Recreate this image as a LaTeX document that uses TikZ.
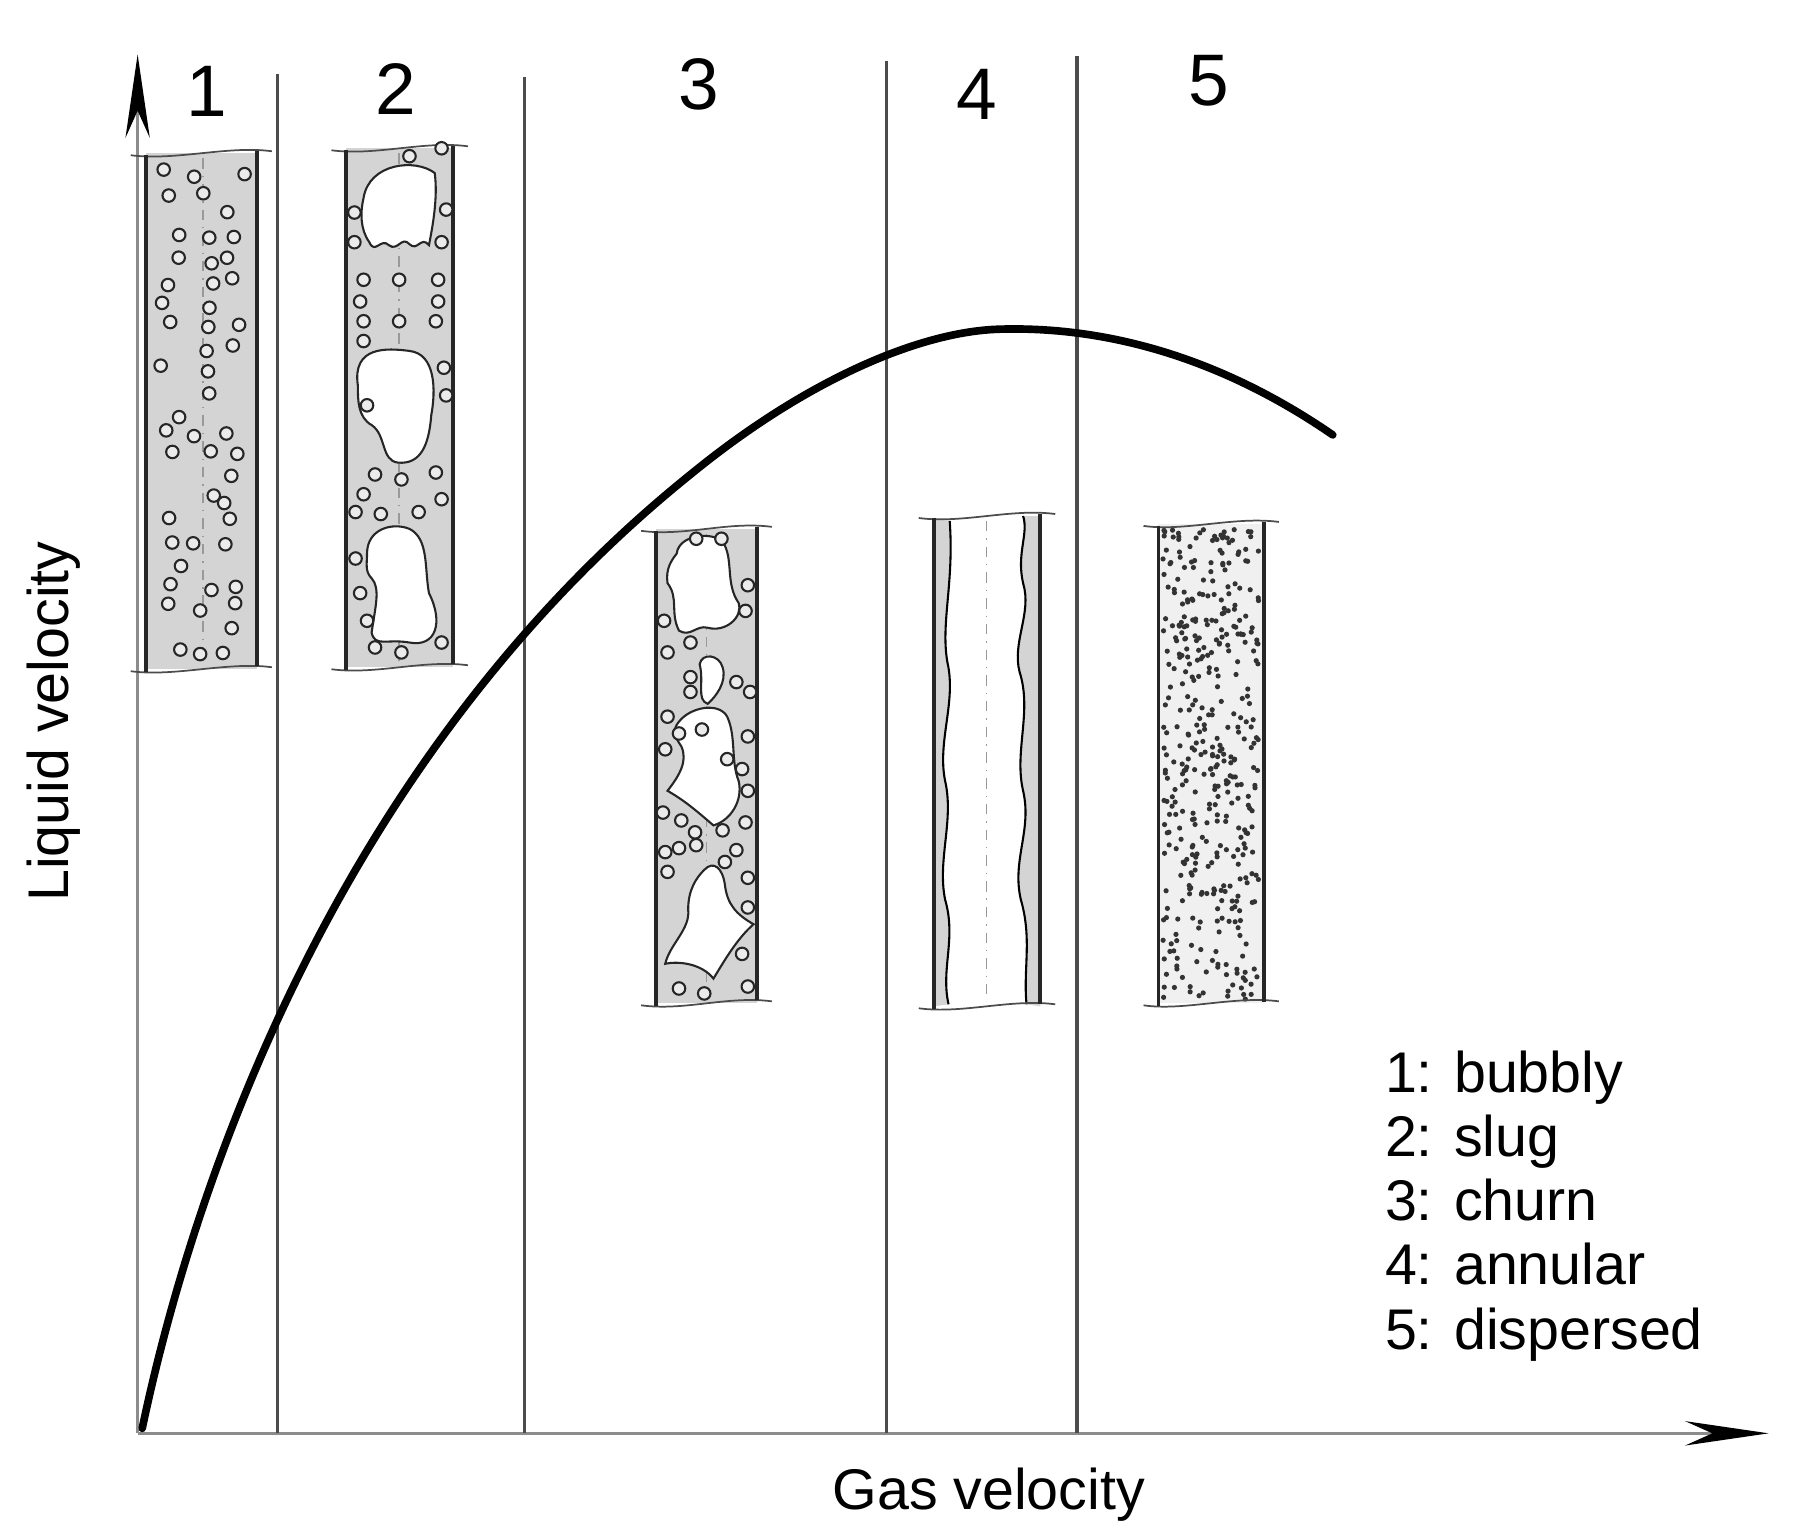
\documentclass[tikz,border=0pt]{standalone}
\usepackage{fontspec}
\setmainfont{Liberation Sans}
\usetikzlibrary{arrows.meta}
\tikzset{
  wall/.style={line width=1.1pt,black!85},
  endwave/.style={line width=0.5pt,black!70},
  tubefill/.style={fill=black!17},
  axis/.style={line width=0.8pt,black!45,-{Stealth[length=24pt,width=7pt,black]}},
  divider/.style={line width=0.9pt,black!70},
  bub/.style={draw=black!85,line width=0.6pt,fill=black!8},
  slug/.style={draw=black!85,line width=0.6pt,fill=white},
  centre/.style={line width=0.4pt,black!40,dash dot},
  lbl/.style={font=\fontsize{21}{24}\selectfont},
  txt/.style={font=\fontsize{16.5}{19.5}\selectfont}
}
\newcommand\mytube[4]{%
  \fill[tubefill] (#1,#3) rectangle (#2,#4);
  \draw[endwave] ({#1-13},{#3+2}) .. controls ({#1+25},{#3+8}) and ({#2-25},{#3-8}) .. ({#2+13},{#3-2});
  \draw[endwave] ({#1-13},{#4+2}) .. controls ({#1+25},{#4+8}) and ({#2-25},{#4-8}) .. ({#2+13},{#4-2});
  \draw[wall] (#1,{#3+2}) -- (#1,{#4+3}) (#2,{#3-2}) -- (#2,{#4-3});
}
\begin{document}
\begin{tikzpicture}[x=0.0116cm,y=-0.01cm]
\useasboundingbox (-2,0) rectangle (1563,1550);
% axes
\coordinate (O) at (118,1450);
\coordinate (Ytip) at (118,55);
\coordinate (Xtip) at (1540,1450);
\draw[axis] (O) -- (Ytip);
\draw[axis] (O) -- (Xtip);
% dividers
\foreach \x/\t in {240/75,455/78,771/62,937/57}{\draw[divider] (\x,\t) -- (\x,1450);}
\node[lbl] (n1) at (178,92) {1};
\node[lbl] (n2) at (343,90) {2};
\node[lbl] (n3) at (607,85) {3};
\node[lbl] (n4) at (850,95) {4};
\node[lbl] (n5) at (1052,82) {5};
% tube 1 bubbly
\mytube{125}{222}{155}{677}
\draw[centre] (175,160) -- (175,672);
\pgfmathsetseed{7}
\foreach \r in {0,...,22}{
  \foreach \c in {148,175,202}{
    \pgfmathsetmacro\keep{rnd}
    \ifdim\keep pt>0.2pt
      \pgfmathsetmacro\bx{\c+(rnd-0.5)*20}
      \pgfmathsetmacro\by{175+\r*22+(rnd-0.5)*10}
      \draw[bub] (\bx,\by) circle[radius=1.8pt];
    \fi
  }
}
% tube 2 slug
\mytube{300}{393}{150}{675}
\draw[centre] (346,155) -- (346,670);
\draw[slug] (315,200) .. controls (320,165) and (360,160) .. (377,175)
  .. controls (380,200) and (375,230) .. (372,248)
  .. controls (365,238) and (362,255) .. (355,247)
  .. controls (348,238) and (345,255) .. (337,248)
  .. controls (330,240) and (325,258) .. (320,245)
  .. controls (312,232) and (312,215) .. (315,200) -- cycle;
\draw[slug] (310,390) .. controls (305,350) and (335,352) .. (355,355)
  .. controls (378,358) and (378,395) .. (374,420)
  .. controls (372,450) and (365,470) .. (345,468)
  .. controls (330,466) and (335,440) .. (322,430)
  .. controls (310,422) and (310,405) .. (310,390) -- cycle;
\draw[slug] (318,560) .. controls (318,535) and (340,528) .. (355,535)
  .. controls (372,545) and (368,575) .. (372,600)
  .. controls (385,630) and (378,655) .. (355,650)
  .. controls (335,646) and (325,655) .. (322,640)
  .. controls (325,615) and (330,595) .. (322,585)
  .. controls (316,578) and (318,570) .. (318,560) -- cycle;
\foreach \bx/\by in {307/215,383/150,355/158,387/212,383/245,307/245,
  315/283,346/283,380/283,312/305,380/305,315/325,346/325,378/325,315/345,
  385/372,387/400,318/410,325/480,348/485,378/478,315/500,383/505,308/518,
  330/520,363/518,308/565,312/600,318/628,325/655,348/660,383/650}{
  \draw[bub] (\bx,\by) circle[radius=1.8pt];}
% tube 3 churn
\mytube{570}{658}{535}{1015}
\draw[centre] (614,540) -- (614,1010);
\draw[slug] (588,560) .. controls (590,540) and (620,538) .. (628,548)
  .. controls (638,565) and (630,590) .. (642,610)
  .. controls (646,625) and (630,640) .. (615,635)
  .. controls (605,632) and (600,645) .. (590,638)
  .. controls (582,620) and (590,605) .. (580,590)
  .. controls (578,575) and (584,566) .. (588,560) -- cycle;
\draw[slug] (608,672) .. controls (610,660) and (625,662) .. (628,675)
  .. controls (632,690) and (622,705) .. (615,712)
  .. controls (605,708) and (612,690) .. (608,672) -- cycle;
\draw[slug] (590,730) .. controls (600,715) and (625,710) .. (632,725)
  .. controls (640,745) and (635,770) .. (642,790)
  .. controls (646,810) and (635,830) .. (620,835)
  .. controls (605,820) and (595,810) .. (580,800)
  .. controls (590,785) and (598,770) .. (592,755)
  .. controls (586,745) and (584,738) .. (590,730) -- cycle;
\draw[slug] (612,880) .. controls (620,870) and (628,878) .. (630,895)
  .. controls (632,915) and (640,925) .. (655,935)
  .. controls (640,950) and (628,975) .. (620,990)
  .. controls (610,975) and (590,972) .. (578,975)
  .. controls (582,955) and (600,940) .. (598,920)
  .. controls (598,900) and (605,888) .. (612,880) -- cycle;
\foreach \bx/\by in {605/545,627/545,650/592,577/628,648/618,580/660,600/685,
  640/690,600/700,590/742,610/738,650/745,578/758,632/768,645/778,650/800,
  576/822,592/830,604/842,628/840,648/832,605/855,590/858,640/860,630/872,
  580/882,650/888,650/918,645/965,590/1000,612/1005,650/998,578/862,580/725,
  652/700,600/650}{
  \draw[bub] (\bx,\by) circle[radius=1.8pt];}
% tube 4 annular
\fill[white] (812,522) rectangle (905,1018);
\fill[tubefill] (812,525) -- (812,1018) -- (825,1016)
  .. controls (818,980) and (832,950) .. (822,910)
  .. controls (815,870) and (830,830) .. (822,790)
  .. controls (815,750) and (832,710) .. (824,670)
  .. controls (818,630) and (830,590) .. (826,527) -- cycle;
\draw[line width=0.6pt] (825,1016)
  .. controls (818,980) and (832,950) .. (822,910)
  .. controls (815,870) and (830,830) .. (822,790)
  .. controls (815,750) and (832,710) .. (824,670)
  .. controls (818,630) and (830,590) .. (826,527);
\fill[tubefill] (905,522) -- (905,1018) -- (893,1016)
  .. controls (890,980) and (898,950) .. (888,910)
  .. controls (880,870) and (898,840) .. (890,800)
  .. controls (882,760) and (898,720) .. (887,680)
  .. controls (880,650) and (898,620) .. (890,590)
  .. controls (884,560) and (895,540) .. (890,522) -- cycle;
\draw[line width=0.6pt] (893,1016)
  .. controls (890,980) and (898,950) .. (888,910)
  .. controls (880,870) and (898,840) .. (890,800)
  .. controls (882,760) and (898,720) .. (887,680)
  .. controls (880,650) and (898,620) .. (890,590)
  .. controls (884,560) and (895,540) .. (890,522);
\draw[centre] (858,527) -- (858,1013);
\draw[endwave] (799,524) .. controls (837,530) and (880,514) .. (918,520);
\draw[endwave] (799,1020) .. controls (837,1026) and (880,1010) .. (918,1016);
\draw[wall] (812,524) -- (812,1021) (905,520) -- (905,1016);
% tube 5 dispersed
\fill[black!6] (1008,530) rectangle (1100,1015);
\pgfmathsetseed{11}
\foreach \i in {1,...,420}{
  \pgfmathsetmacro\dx{1012+rnd*84}
  \pgfmathsetmacro\dy{535+rnd*476}
  \fill[black!80] (\dx,\dy) circle[radius=0.75pt];
}
\draw[endwave] (995,532) .. controls (1030,538) and (1075,522) .. (1113,528);
\draw[endwave] (995,1017) .. controls (1030,1023) and (1075,1007) .. (1113,1013);
\draw[wall] (1008,532) -- (1008,1018) (1100,528) -- (1100,1014);
% curve
\draw[line width=2.2pt,line cap=round] (122,1445) .. controls (170,1180) and (300,760) .. (600,480)
  .. controls (700,385) and (800,335) .. (870,333)
  .. controls (960,330) and (1060,360) .. (1160,440);
% labels
\node[txt,rotate=90] (ylab) at (45,730) {Liquid velocity};
\node[txt] (xlab) at (860,1512) {Gas velocity};
\node[txt,anchor=north west,align=left,inner sep=0pt] (leg) at (1205,1062)
 {1: bubbly\\[-1pt]2: slug\\[-1pt]3: churn\\[-1pt]4: annular\\[-1pt]5: dispersed};
\end{tikzpicture}
\end{document}
